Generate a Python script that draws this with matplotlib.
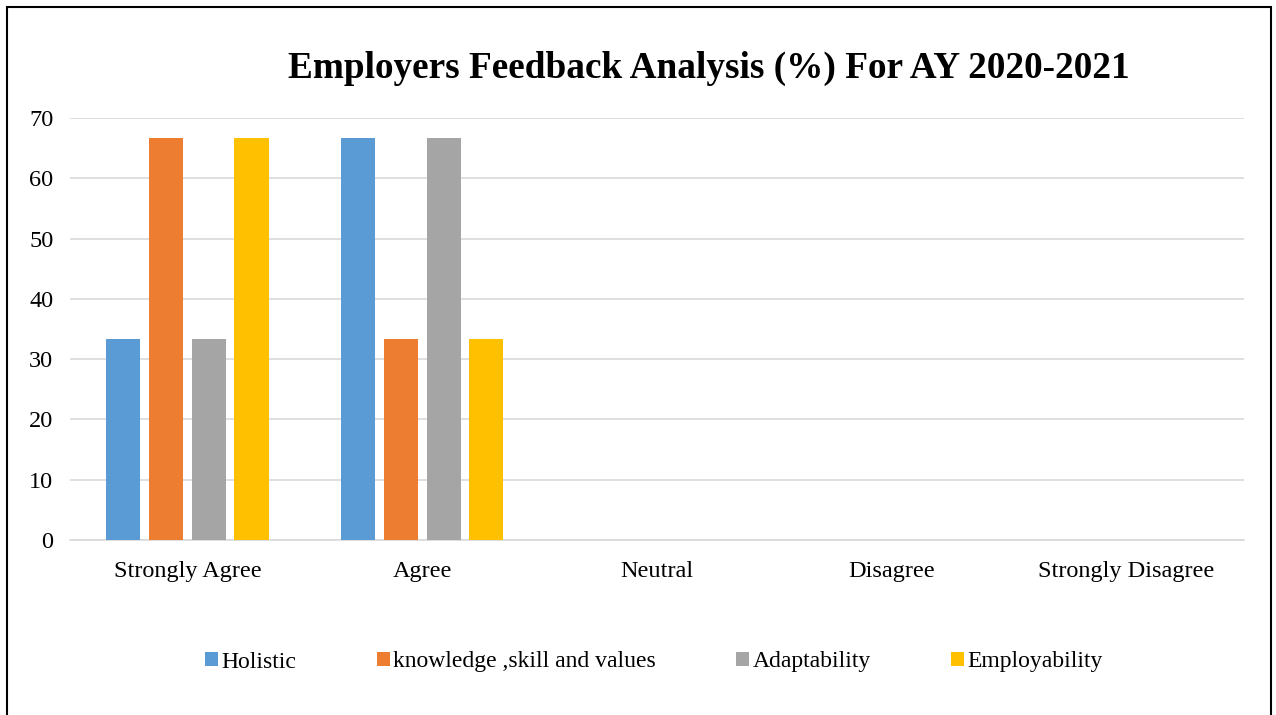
#!/usr/bin/env python3
import numpy as np
import matplotlib
matplotlib.use("Agg")
import matplotlib.pyplot as plt
from matplotlib.patches import Rectangle

categories = ["Strongly Agree", "Agree", "Neutral", "Disagree", "Strongly Disagree"]
series_names = ["Holistic", "knowledge ,skill and values", "Adaptability", "Employability"]
holistic = [33.33, 66.67, 0, 0, 0]
knowledge = [66.67, 33.33, 0, 0, 0]
adaptability = [33.33, 66.67, 0, 0, 0]
employability = [66.67, 33.33, 0, 0, 0]
yticks = [0, 10, 20, 30, 40, 50, 60, 70]

colors = ["#5B9BD5", "#ED7D31", "#A5A5A5", "#FFC000"]

plt.rcParams["font.family"] = ["Liberation Serif", "DejaVu Serif"]

fig = plt.figure(figsize=(12.76, 7.15), dpi=100)
ax = fig.add_axes([70 / 1276, 1 - 540 / 715, 1174 / 1276, 422 / 715])

x = np.arange(len(categories))
step = 0.182
width = 0.145
for i, (vals, name, c) in enumerate(zip([holistic, knowledge, adaptability, employability],
                                        series_names, colors)):
    ax.bar(x + (i - 1.5) * step, vals, width, color=c, label=name, zorder=3)

ax.set_xlim(-0.5, len(categories) - 0.5)
ax.set_ylim(0, 70)
ax.set_yticks(yticks)
ax.set_xticks(x)
ax.set_xticklabels(categories)
ax.tick_params(axis="both", length=0, labelsize=17.5)
ax.tick_params(axis="x", pad=15)
ax.tick_params(axis="y", pad=12)
ax.grid(axis="y", color="#D9D9D9", linewidth=1.2, zorder=0)
for s in ["top", "right", "left"]:
    ax.spines[s].set_visible(False)
ax.spines["bottom"].set_color("#D9D9D9")
ax.spines["bottom"].set_linewidth(1.2)

fig.text(709 / 1276, 1 - 68 / 715, "Employers Feedback Analysis (%) For AY 2020-2021",
         ha="center", va="center", fontsize=26.8, fontweight="bold")

fig.legend(loc="center", bbox_to_anchor=(654 / 1276, 1 - 662 / 715), ncol=4,
           frameon=False, fontsize=17, handlelength=0.55, handleheight=0.55,
           handletextpad=0.15, columnspacing=3.4)

fig.add_artist(Rectangle((7 / 1276, -0.05), 1264 / 1276, 1.05 - 7 / 715,
                         transform=fig.transFigure, fill=False,
                         edgecolor="black", linewidth=1.5))

fig.savefig("out.png", dpi=100)
plt.close(fig)
